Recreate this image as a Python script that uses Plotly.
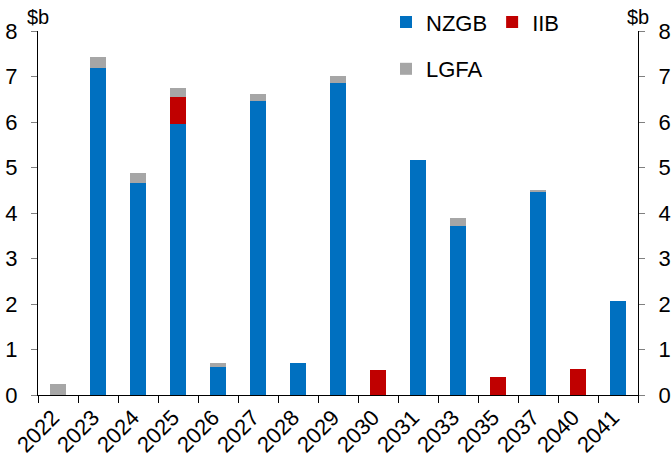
import plotly.graph_objects as go

years = ["2022", "2023", "2024", "2025", "2026", "2027", "2028", "2029", "2030",
         "2031", "2033", "2035", "2037", "2040", "2041"]
nzgb = [0, 7.19, 4.65, 5.95, 0.61, 6.46, 0.71, 6.85, 0, 5.16, 3.71, 0, 4.47, 0, 2.07]
iib = [0, 0, 0, 0.61, 0, 0, 0, 0, 0.56, 0, 0, 0.40, 0, 0.57, 0]
lgfa = [0.24, 0.24, 0.22, 0.19, 0.10, 0.15, 0, 0.17, 0, 0, 0.17, 0, 0.03, 0, 0]
yticks = [0, 1, 2, 3, 4, 5, 6, 7, 8]

BLUE = "#0070C0"
RED = "#C00000"
GREY = "#A6A6A6"
FONT = "Liberation Sans, Arial, sans-serif"

W, H = 672, 467
ML, MR, MB = 38, 34, 72
PLOT_TOP = 31  # px from top where the y-axes end
paper_h = H - MB
ydom_top = (paper_h - PLOT_TOP) / paper_h

fig = go.Figure()
fig.add_bar(x=years, y=nzgb, name="NZGB", marker=dict(color=BLUE, line=dict(width=0)), legend="legend")
fig.add_bar(x=years, y=iib, name="IIB", marker=dict(color=RED, line=dict(width=0)), legend="legend")
fig.add_bar(x=years, y=lgfa, name="LGFA", marker=dict(color=GREY, line=dict(width=0)), legend="legend2")
# invisible trace to drive the right axis
fig.add_scatter(x=years, y=[None] * len(years), yaxis="y2", mode="lines",
                showlegend=False, hoverinfo="skip")

axis_common = dict(range=[0, 8], tickvals=yticks, showgrid=False, zeroline=False,
                   showline=True, linecolor="#000000", linewidth=1,
                   ticks="outside", ticklen=6, tickcolor="#808080",
                   ticklabelstandoff=9, automargin=False, domain=[0, ydom_top],
                   tickfont=dict(size=22, color="#000000", family=FONT))

fig.update_layout(
    barmode="stack",
    bargap=0.6,
    width=W, height=H,
    margin=dict(l=ML, r=MR, t=0, b=MB),
    plot_bgcolor="white", paper_bgcolor="white",
    font=dict(family=FONT, size=20, color="#000000"),
    xaxis=dict(type="category", range=[-0.5, len(years) - 0.5], tickangle=-45,
               showgrid=False, showline=True,
               linecolor="#000000", linewidth=1, ticks="outside", ticklen=7,
               tickcolor="#000000", tickson="boundaries", ticklabelshift=-5,
               automargin=False,
               tickfont=dict(size=22, color="#000000", family=FONT)),
    yaxis=dict(**axis_common),
    yaxis2=dict(**axis_common, overlaying="y", side="right"),
    legend=dict(orientation="h", x=0.58, y=0.997, xanchor="left", yanchor="top",
                font=dict(size=22, family=FONT), itemwidth=30, bgcolor="rgba(0,0,0,0)",
                traceorder="normal"),
    legend2=dict(orientation="h", x=0.58, y=0.8785, xanchor="left", yanchor="top",
                 font=dict(size=22, family=FONT), itemwidth=30, bgcolor="rgba(0,0,0,0)"),
    annotations=[
        dict(text="$b", xref="paper", yref="paper", x=0, y=0.957, xanchor="center",
             yanchor="middle", showarrow=False, font=dict(size=20, family=FONT)),
        dict(text="$b", xref="paper", yref="paper", x=1, y=0.957, xanchor="center",
             yanchor="middle", showarrow=False, font=dict(size=20, family=FONT)),
    ],
)

fig.write_html("out.html")
